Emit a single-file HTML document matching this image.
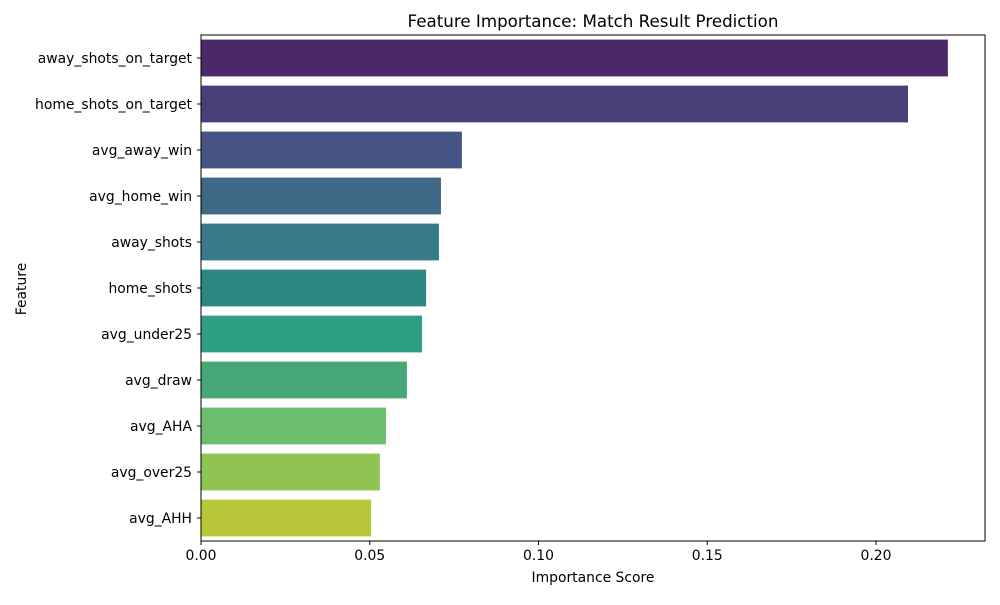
<!DOCTYPE html>
<html><head><meta charset="utf-8">
<style>
html,body{margin:0;padding:0;background:#fff;}
svg text{font-family:"DejaVu Sans","Liberation Sans",sans-serif;fill:#000;}
</style></head>
<body>
<svg id="chart" width="1000" height="600" viewBox="0 0 1000 600">
  <text x="593" y="27" font-size="16.7" text-anchor="middle">Feature Importance: Match Result Prediction</text>
  <text x="593" y="582" font-size="13.9" text-anchor="middle">Importance Score</text>
  <text x="26" y="289" font-size="13.9" text-anchor="middle" transform="rotate(-90 26 289)">Feature</text>
  <g id="bars"></g>
  <g id="axes"></g>
</svg>
<script>
const features = ["away_shots_on_target","home_shots_on_target","avg_away_win","avg_home_win","away_shots","home_shots","avg_under25","avg_draw","avg_AHA","avg_over25","avg_AHH"];
const importance = [0.2213,0.2095,0.0773,0.0711,0.0705,0.0667,0.0655,0.0610,0.0548,0.0530,0.0504];
const xTicks = [0,0.05,0.10,0.15,0.20];
const xTickLabels = ["0.00","0.05","0.10","0.15","0.20"];
const colors = ["#4b2867","#4a3f79","#465485","#3e6886","#377a88","#2e8680","#2e9e85","#45a875","#6cbd6d","#8fc454","#b8c738"];

const NS="http://www.w3.org/2000/svg";
const L=201,R=985,T=35,B=541,xMax=0.2323;
const xs=v=>L+(v/xMax)*(R-L);
const band=(B-T)/features.length;
const ys=i=>T+band*i+band/2;
const bars=document.getElementById('bars'),axes=document.getElementById('axes');
function mk(tag,attrs,parent){const e=document.createElementNS(NS,tag);for(const k in attrs)e.setAttribute(k,attrs[k]);parent.appendChild(e);return e;}
features.forEach((f,i)=>{
  const h=band*0.8;
  const r=mk('rect',{x:L,y:ys(i)-h/2,width:xs(importance[i])-L,height:h,fill:colors[i]},bars);
  
  
  mk('line',{x1:L-4,x2:L,y1:ys(i),y2:ys(i),stroke:'#000','stroke-width':1},axes);
  const t=mk('text',{x:L-9,y:ys(i)+5,'font-size':13.9,'text-anchor':'end'},axes);
  t.textContent=f;
  
  
});
xTicks.forEach((v,i)=>{
  mk('line',{x1:xs(v),x2:xs(v),y1:B,y2:B+4,stroke:'#000','stroke-width':1},axes);
  const t=mk('text',{x:xs(v),y:B+19,'font-size':13.9,'text-anchor':'middle'},axes);
  t.textContent=xTickLabels[i];
  
  
});
const frame=mk('rect',{x:L,y:T,width:R-L,height:B-T,fill:'none',stroke:'#000','stroke-width':1},axes);


</script>
</body></html>
